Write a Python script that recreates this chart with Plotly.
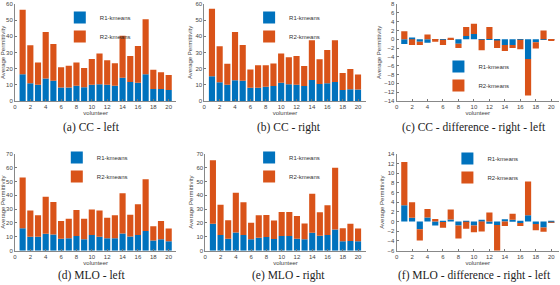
import plotly.graph_objects as go

volunteers = list(range(1, 21))
series_names = ["R1-kmeans", "R2-kmeans"]

cc_left_r1 = [16.5, 11.0, 10.0, 13.8, 12.5, 8.3, 8.3, 9.3, 8.5, 10.0, 10.3, 10.0, 9.4, 14.3, 11.7, 11.3, 16.5, 7.4, 7.4, 6.8]
cc_left_r2 = [40.0, 23.5, 13.7, 28.9, 22.7, 12.6, 13.4, 14.4, 11.8, 16.0, 19.1, 15.2, 13.9, 26.1, 16.1, 22.7, 34.0, 11.9, 10.3, 9.3]

cc_right_r1 = [15.3, 11.6, 10.0, 12.8, 12.4, 8.2, 8.2, 8.8, 9.2, 11.3, 10.3, 10.0, 9.2, 12.9, 10.4, 11.0, 11.7, 6.8, 7.2, 7.0]
cc_right_r2 = [41.7, 22.2, 13.0, 29.9, 22.2, 11.3, 13.8, 13.2, 14.0, 18.0, 16.7, 17.8, 12.4, 24.7, 15.4, 20.5, 25.9, 10.5, 12.5, 9.3]

cc_diff_r1 = [-1.1, 0.4, -0.6, -0.8, -0.1, -0.1, -0.05, -1.0, 0.75, 1.2, -0.1, 0.05, -0.3, -1.3, -1.3, -0.1, -4.5, -0.7, -0.05, -0.1]
cc_diff_r2 = [1.8, -1.3, -0.7, 1.05, -0.45, -1.2, 0.35, -1.0, 2.0, 2.3, -2.4, 2.7, -1.7, -1.4, -0.7, -2.2, -8.3, -1.4, 2.0, -0.25]

mlo_left_r1 = [16.2, 10.1, 10.1, 12.2, 11.7, 8.7, 8.9, 10.6, 8.2, 11.3, 10.1, 8.9, 8.9, 12.4, 10.3, 11.3, 14.3, 7.3, 8.2, 6.8]
mlo_left_r2 = [36.6, 19.0, 15.5, 26.8, 23.5, 12.7, 14.1, 18.7, 14.8, 18.5, 19.0, 14.8, 16.7, 29.1, 15.7, 22.3, 37.3, 10.3, 13.2, 9.2]

mlo_right_r1 = [19.5, 11.3, 8.7, 13.1, 11.3, 8.2, 9.4, 9.9, 8.5, 10.6, 10.6, 8.7, 8.2, 12.9, 10.8, 11.3, 15.3, 6.8, 7.0, 6.8]
mlo_right_r2 = [45.8, 21.8, 13.3, 28.7, 23.7, 12.0, 16.2, 15.9, 13.3, 17.3, 17.3, 16.4, 11.5, 28.2, 16.9, 21.6, 44.6, 9.4, 12.5, 9.2]

mlo_diff_r1 = [3.4, 0.8, -1.6, 0.85, -0.8, -0.1, 0.45, -0.8, -0.05, -0.8, 0.3, -0.45, -0.7, 0.5, 0.4, -0.3, 1.3, -0.5, -1.2, -0.05]
mlo_diff_r2 = [8.9, 3.2, -2.3, 1.75, 0.55, -1.15, 2.05, -2.7, -1.45, -1.4, -2.05, 1.9, -5.3, -0.9, 1.2, -0.6, 7.0, -1.3, -0.9, -0.1]

captions = ["(a) CC - left", "(b) CC - right", "(c) CC - difference - right - left",
            "(d) MLO - left", "(e) MLO - right", "(f) MLO - difference - right - left"]

W, H = 560, 285
colors = ["#0072BD", "#D95319"]

panels = [
    dict(r1=cc_left_r1, r2=cc_left_r2, yr=[0, 60], dt=10, box=(13, 175, 1, 100), leg=(58, 0), cap=(90, 127)),
    dict(r1=cc_right_r1, r2=cc_right_r2, yr=[0, 60], dt=10, box=(203, 365, 1, 100), leg=(248, 0), cap=(288, 127)),
    dict(r1=cc_diff_r1, r2=cc_diff_r2, yr=[-14, 8], dt=2, box=(396, 559, 1, 100), leg=(438, 50), cap=(474, 127)),
    dict(r1=mlo_left_r1, r2=mlo_left_r2, yr=[0, 70], dt=10, box=(13, 175, 154, 253), leg=(55, 143), cap=(90, 278)),
    dict(r1=mlo_right_r1, r2=mlo_right_r2, yr=[0, 70], dt=10, box=(204, 365, 154, 253), leg=(248, 143), cap=(288, 278)),
    dict(r1=mlo_diff_r1, r2=mlo_diff_r2, yr=[-6, 14], dt=2, box=(396, 559, 154, 253), leg=(447, 144), cap=(474, 278)),
]

fig = go.Figure()
axis_font = dict(family="Liberation Sans, Arial, sans-serif", size=6, color="#444")
layout = dict(width=W, height=H, margin=dict(l=0, r=0, t=0, b=0),
              paper_bgcolor="white", plot_bgcolor="white", barmode="relative",
              bargap=0.2, showlegend=True, annotations=[])

for i, p in enumerate(panels):
    k = i + 1
    sfx = "" if k == 1 else str(k)
    legname = "legend" if k == 1 else f"legend{k}"
    for name, vals, col in zip(series_names, [p["r1"], p["r2"]], colors):
        fig.add_trace(go.Bar(x=volunteers, y=vals, name=name, marker=dict(color=col, line=dict(width=0)),
                             xaxis="x" + sfx, yaxis="y" + sfx, legend=legname, width=0.8))
    x0, x1, y0, y1 = p["box"]
    layout["xaxis" + sfx] = dict(domain=[x0 / W, x1 / W], anchor="y" + sfx, range=[0, 21],
                                 tickmode="array", tickvals=list(range(0, 21, 2)),
                                 ticks="inside", ticklen=2, tickcolor="#777", showline=True,
                                 linecolor="#888", linewidth=1, showgrid=False, zeroline=False,
                                 tickfont=axis_font,
                                 title=dict(text="volunteer", font=axis_font, standoff=1))
    layout["yaxis" + sfx] = dict(domain=[1 - y1 / H, 1 - y0 / H], anchor="x" + sfx, range=p["yr"],
                                 dtick=p["dt"], tick0=0, ticks="inside", ticklen=2, tickcolor="#777",
                                 showline=True, linecolor="#888", linewidth=1, showgrid=False,
                                 zeroline=False, tickfont=axis_font,
                                 title=dict(text="Average Permittivity", font=axis_font, standoff=2))
    lx, ly = p["leg"]
    layout[legname] = dict(x=lx / W, y=1 - ly / H, xanchor="left", yanchor="top",
                           bgcolor="rgba(255,255,255,0)", borderwidth=0,
                           font=dict(family="Liberation Sans, Arial, sans-serif", size=6, color="#333"),
                           itemwidth=30, tracegroupgap=0, traceorder="normal")
    cx, cy = p["cap"]
    layout["annotations"].append(dict(text=captions[i], x=cx / W, y=1 - cy / H, xref="paper", yref="paper",
                                      xanchor="center", yanchor="middle", showarrow=False,
                                      font=dict(family="Liberation Serif, Times New Roman, serif", size=11.5, color="#222")))

fig.update_layout(**layout)
fig.write_html("out.html", config={"displayModeBar": False},
               post_script="document.body.style.margin='0px';")
